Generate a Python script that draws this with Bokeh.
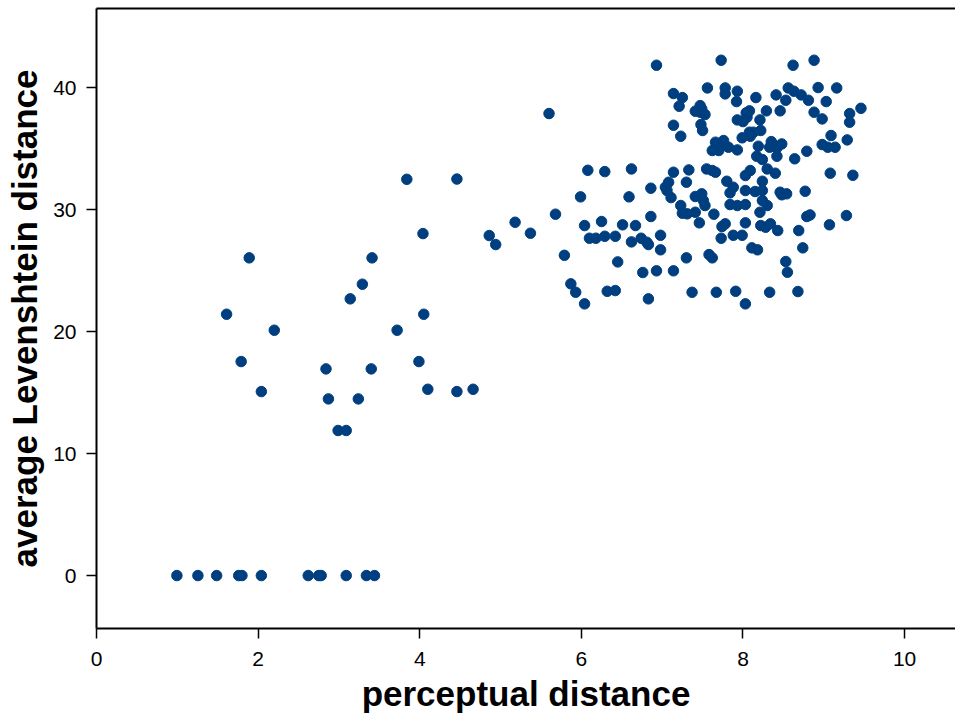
from bokeh.plotting import figure
from bokeh.models import LinearAxis, FixedTicker, Range1d, ColumnDataSource
from bokeh.embed import file_html
from bokeh.resources import INLINE

# perceptual distance (x) and average Levenshtein distance (y)
x_low = [3.84, 4.46, 4.04, 4.86, 4.94, 1.89, 3.41, 3.29, 3.14, 1.61, 4.05,
         2.20, 3.72, 1.79, 2.84, 3.40, 3.99, 2.04, 4.10, 4.46, 4.66, 2.87, 3.24, 2.99, 3.09,
         0.995, 1.255, 1.487, 1.76, 1.80, 2.04, 2.62, 2.75, 2.78, 3.09, 3.34, 3.44]
y_low = [32.48, 32.5, 28.03, 27.87, 27.13, 26.04, 26.04, 23.88, 22.68, 21.42, 21.42,
         20.11, 20.11, 17.54, 16.94, 16.94, 17.54, 15.08, 15.27, 15.08, 15.27, 14.48, 14.48, 11.89, 11.89,
         0, 0, 0, 0, 0, 0, 0, 0, 0, 0, 0, 0]

x_mid = [5.18, 5.37, 5.60, 5.68, 5.79, 5.87, 5.93, 5.99, 6.04, 6.04, 6.08, 6.10, 6.18, 6.25,
         6.29, 6.29, 6.32, 6.42, 6.42, 6.45, 6.51, 6.59, 6.62, 6.62, 6.67, 6.74, 6.76, 6.81,
         6.83, 6.83, 6.86, 6.86, 6.93, 6.93, 6.98, 6.98]
y_mid = [28.96, 28.06, 37.87, 29.62, 26.25, 23.91, 23.22, 31.04, 22.27, 28.69, 33.22, 27.65, 27.65, 29.02,
         33.11, 27.81, 23.30, 27.81, 23.36, 25.71, 28.75, 31.04, 33.33, 27.35, 28.69, 27.65, 24.84, 27.32,
         27.13, 22.68, 31.75, 29.43, 41.83, 24.98, 27.89, 26.70]

x_7 = [7.04, 7.06, 7.08, 7.11, 7.14, 7.14, 7.14, 7.14, 7.21, 7.23, 7.23, 7.25, 7.25, 7.30, 7.30,
       7.31, 7.33, 7.37, 7.41, 7.41, 7.41, 7.46, 7.47, 7.47, 7.48, 7.49, 7.49, 7.50, 7.51, 7.53,
       7.53, 7.55, 7.56, 7.58, 7.62, 7.62, 7.62, 7.64, 7.66, 7.66, 7.67, 7.70, 7.73, 7.73, 7.74,
       7.76, 7.78, 7.78, 7.78, 7.78, 7.80, 7.82, 7.84, 7.84, 7.88, 7.88, 7.91, 7.92, 7.93, 7.93,
       7.93, 7.93, 7.99, 7.99]
y_7 = [31.83, 31.56, 32.24, 30.98, 39.51, 36.91, 33.06, 24.98, 38.47, 36.01, 30.33, 39.18, 29.70, 32.24, 26.04,
       29.65, 33.25, 23.22, 38.06, 31.07, 29.78, 28.91, 38.52, 37.98, 36.97, 31.29, 38.25, 36.48, 30.74, 37.79,
       30.33, 33.33, 39.97, 26.31, 34.84, 33.20, 26.04, 29.62, 35.52, 33.06, 23.22, 34.84, 42.24, 27.65, 28.61,
       35.66, 39.97, 39.48, 35.25, 28.83, 32.32, 35.11, 31.37, 30.41, 31.83, 27.89, 23.30, 38.85, 39.70, 37.35,
       34.89, 30.33, 35.88, 27.89]

x_8 = [8.00, 8.03, 8.03, 8.03, 8.03, 8.03, 8.04, 8.05, 8.08, 8.08, 8.09, 8.09, 8.11, 8.13, 8.15,
       8.16, 8.17, 8.18, 8.19, 8.21, 8.21, 8.22, 8.22, 8.24, 8.24, 8.24, 8.24, 8.28, 8.29, 8.30,
       8.30, 8.33, 8.33, 8.34, 8.35, 8.38, 8.40, 8.41, 8.42, 8.42, 8.43, 8.46, 8.46, 8.48, 8.48,
       8.53, 8.53, 8.54, 8.55, 8.56, 8.62, 8.63, 8.64, 8.68, 8.69, 8.72, 8.74, 8.77, 8.79, 8.79,
       8.81, 8.83, 8.88, 8.88, 8.93, 8.98, 8.98]
y_8 = [37.21, 32.79, 31.56, 30.41, 28.91, 22.27, 37.93, 37.57, 38.09, 36.34, 36.01, 33.20, 26.86, 36.34, 31.48,
       39.18, 34.37, 26.70, 35.19, 37.35, 29.78, 36.48, 28.69, 34.10, 32.32, 31.56, 30.74, 28.55, 38.09, 33.33,
       30.33, 35.11, 23.22, 28.83, 35.57, 35.30, 32.98, 39.40, 35.06, 34.37, 28.28, 38.09, 31.42, 35.38, 31.21,
       38.96, 25.74, 31.29, 24.86, 39.97, 41.83, 39.70, 34.16, 23.28, 28.28, 39.40, 26.86, 31.50, 34.78, 29.43,
       38.96, 29.56, 42.24, 37.98, 40.00, 37.43, 35.33]

x_9 = [9.03, 9.05, 9.07, 9.08, 9.09, 9.14, 9.16, 9.28, 9.29, 9.32, 9.32, 9.36, 9.46]
y_9 = [38.85, 35.11, 28.75, 32.98, 36.07, 35.11, 39.97, 29.51, 35.71, 37.87, 37.16, 32.81, 38.30]

x_ticks = [0, 2, 4, 6, 8, 10]
y_ticks = [0, 10, 20, 30, 40]

xs = x_low + x_mid + x_7 + x_8 + x_9
ys = y_low + y_mid + y_7 + y_8 + y_9
src = ColumnDataSource(data=dict(x=xs, y=ys))

FONT = "Liberation Sans"
H = 716
p = figure(width=955, height=H, output_backend="svg", toolbar_location=None,
           x_range=Range1d(0.0, 10.63), y_range=Range1d(-4.34, 46.48),
           min_border_left=96, min_border_bottom=H - 628, min_border_top=8, min_border_right=0)
p.outline_line_color = None
p.grid.visible = False
p.background_fill_color = "white"
p.border_fill_color = "white"

p.scatter("x", "y", source=src, size=10.5, color="#003f7f", line_color="#003f7f")

for ax in (p.xaxis[0], p.yaxis[0]):
    ax.axis_line_width = 2
    ax.axis_line_color = "black"
    ax.major_tick_line_color = "black"
    ax.major_tick_line_width = 1.5
    ax.major_tick_out = 10
    ax.major_tick_in = 0
    ax.minor_tick_line_color = None
    ax.major_label_text_font = FONT
    ax.major_label_text_font_size = "21px"
    ax.major_label_text_color = "black"
    ax.axis_label_text_font = FONT
    ax.axis_label_text_font_style = "bold"
    ax.axis_label_text_font_size = "35px"
    ax.axis_label_text_color = "black"

p.xaxis[0].ticker = FixedTicker(ticks=x_ticks)
p.yaxis[0].ticker = FixedTicker(ticks=y_ticks)
p.xaxis[0].axis_label = "perceptual distance"
p.yaxis[0].axis_label = "average Levenshtein distance"
p.xaxis[0].major_label_standoff = 13
p.xaxis[0].axis_label_standoff = 5
p.yaxis[0].major_label_standoff = 10
p.yaxis[0].axis_label_standoff = 6

top = LinearAxis(ticker=FixedTicker(ticks=[]), major_label_text_font_size="0px",
                 major_tick_out=0, major_tick_in=0, minor_tick_out=0, minor_tick_in=0,
                 major_label_standoff=0, axis_label_standoff=0,
                 axis_line_width=2, axis_line_color="black")
p.add_layout(top, "above")

open("out.html", "w").write(file_html(p, INLINE))
